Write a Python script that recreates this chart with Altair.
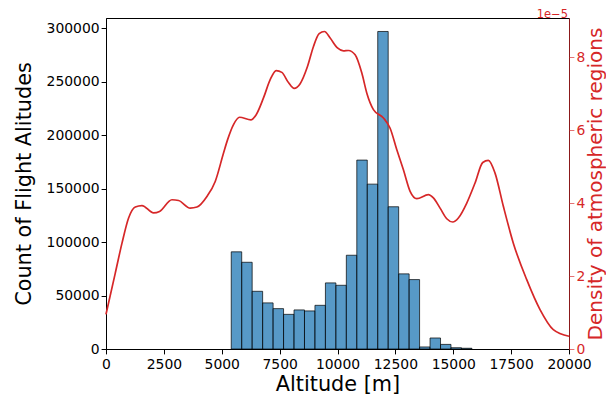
import altair as alt
import pandas as pd

# Histogram (counts per altitude bin)
bin_start = 5410
bin_width = 452
counts = [90850, 81100, 53950, 43100, 37750, 32400, 36530, 35600, 40840,
          61800, 59570, 87670, 176650, 154160, 296900, 133000, 70250, 64900,
          1900, 10300, 4300, 1200, 700]

# Density curve (units of 1e-5)
alt_m = [0, 401, 691, 976, 1265, 1554, 2055, 2314, 2849, 3134, 3639, 3928,
         4360, 4718, 5077, 5249, 5508, 5767, 6259, 6488, 6803, 7092, 7351,
         7597, 7882, 8128, 8387, 8703, 8962, 9208, 9437, 9683, 9998, 10257,
         10473, 10762, 11051, 11267, 11552, 11984, 12273, 12562, 12847, 13136,
         13425, 13926, 14142, 14431, 14720, 14979, 15221, 15584, 15942, 16274,
         16516, 16805, 17164, 17595, 18174, 18748, 19322, 20000]
dens = [0.95, 2.08, 2.90, 3.59, 3.89, 3.93, 3.73, 3.77, 4.09, 4.07, 3.86, 3.89,
        4.18, 4.59, 5.37, 5.73, 6.15, 6.35, 6.28, 6.42, 6.88, 7.38, 7.63,
        7.58, 7.30, 7.14, 7.27, 7.74, 8.29, 8.64, 8.70, 8.52, 8.25, 8.17,
        8.18, 8.06, 7.56, 7.01, 6.56, 6.33, 6.05, 5.46, 4.91, 4.32,
        4.12, 4.23, 4.14, 3.86, 3.57, 3.48, 3.59, 4.00, 4.55, 5.11,
        5.17, 4.82, 3.91, 2.90, 1.90, 1.08, 0.53, 0.35]

x_ticks = [0, 2500, 5000, 7500, 10000, 12500, 15000, 17500, 20000]
y_ticks = [0, 50000, 100000, 150000, 200000, 250000, 300000]
d_ticks = [0, 2, 4, 6, 8]

edges = [bin_start + i * bin_width for i in range(len(counts) + 1)]
bars_df = pd.DataFrame({"x0": edges[:-1], "x1": edges[1:], "count": counts})
line_df = pd.DataFrame({"alt": alt_m, "dens": dens})

W, H = 463, 331
RED = "#d62728"
FONT = "DejaVu Sans"
xscale = alt.Scale(domain=[0, 20000], nice=False, zero=False)

bars = alt.Chart(bars_df).mark_rect(
    fill="#1f77b4", fillOpacity=0.75, stroke="black", strokeOpacity=0.7, strokeWidth=1
).encode(
    x=alt.X("x0:Q", scale=xscale,
            axis=alt.Axis(title="Altitude [m]", values=x_ticks, format="d",
                          labelOverlap=False, labelPadding=4, titlePadding=3)),
    x2="x1",
    y=alt.Y("count:Q", scale=alt.Scale(domain=[0, 309500], nice=False),
            axis=alt.Axis(title="Count of Flight Alitudes", values=y_ticks, format="d",
                          orient="left", labelPadding=2, titlePadding=12)),
    y2=alt.datum(0),
)

line = alt.Chart(line_df).mark_line(color=RED, strokeWidth=1.7, interpolate="monotone").encode(
    x=alt.X("alt:Q", scale=xscale),
    y=alt.Y("dens:Q", scale=alt.Scale(domain=[0, 9.07], nice=False),
            axis=alt.Axis(orient="right", title="Density of atmospheric regions",
                          values=d_ticks, format="d", domainColor=RED, domainOpacity=0.65,
                          tickColor=RED, tickOpacity=0.65, labelColor=RED,
                          titleColor=RED, labelPadding=2, titlePadding=1,
                          titleAngle=270, titleBaseline="top", titleFontSize=20)),
)

offset = alt.Chart(pd.DataFrame({"t": ["1e\u22125"]})).mark_text(
    align="right", baseline="top", color=RED, font=FONT, fontSize=11.5
).encode(text="t:N", x=alt.value(W - 1), y=alt.value(-9))

chart = alt.layer(bars, line, offset).resolve_scale(y="independent").properties(
    width=W, height=H,
    padding={"left": 98, "top": 10, "right": 37, "bottom": 46},
    autosize=alt.AutoSizeParams(type="none"),
).configure_view(stroke="black", strokeWidth=1).configure_axis(
    grid=False, domainColor="black", tickColor="black", labelColor="black",
    titleColor="black", labelFont=FONT, titleFont=FONT, labelFontSize=13.9,
    titleFontSize=20.8, titleFontWeight="normal", tickSize=4.9, domainWidth=1,
    tickWidth=1, labelFlush=False,
)

chart.save("out.html", embed_options={"renderer": "svg", "actions": False})
